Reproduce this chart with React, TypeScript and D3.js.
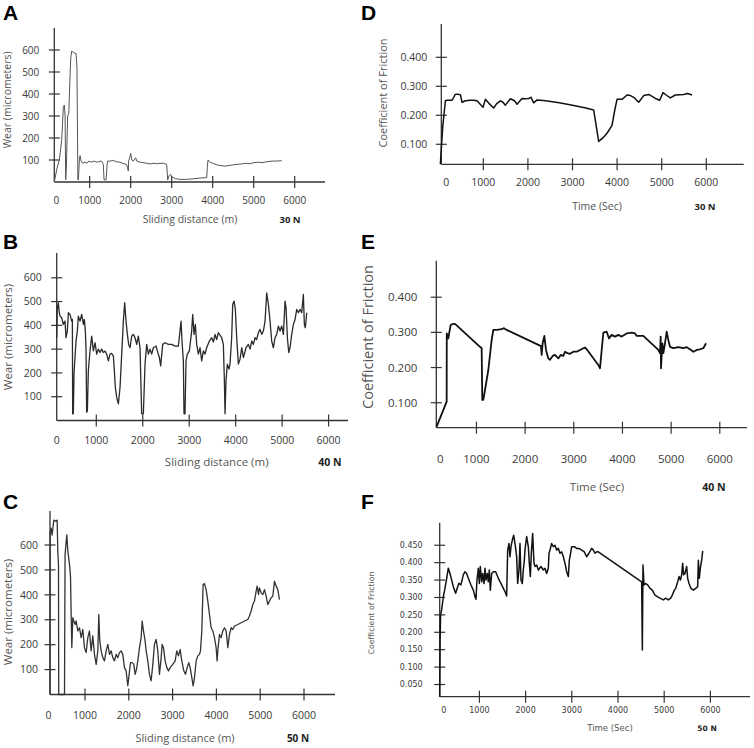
import * as d3 from 'd3';

type Pt = [number, number];

// tick values shared by the six panels
const xTicks = [0, 1000, 2000, 3000, 4000, 5000, 6000];
const wearTicks = [100, 200, 300, 400, 500, 600];
const cofTicks = [0.1, 0.2, 0.3, 0.4];
const cofTicksFine = [0.05, 0.1, 0.15, 0.2, 0.25, 0.3, 0.35, 0.4, 0.45];

// A - wear at 30 N (sliding distance m, micrometers)
const wear30N: Pt[] = [
  [138, 0], [200, 60], [260, 100], [317, 190], [358, 340], [382, 350], [400, 300], [415, 10], [430, 60],
  [463, 300], [490, 310], [515, 450], [537, 560], [561, 595], [600, 590], [640, 585], [667, 585], [690, 520],
  [699, 300], [712, 10], [725, 10], [748, 100], [765, 120], [790, 95], [830, 85], [880, 90], [930, 85],
  [980, 95], [1040, 90], [1090, 95], [1150, 92], [1200, 90], [1252, 95], [1300, 93], [1333, 80], [1350, 10],
  [1400, 10], [1425, 80], [1440, 95], [1500, 95], [1577, 98], [1650, 92], [1740, 90], [1800, 85], [1900, 80],
  [1943, 50], [1950, 95], [1975, 110], [2000, 130], [2030, 100], [2065, 95], [2120, 110], [2150, 95],
  [2228, 90], [2300, 88], [2400, 85], [2472, 82], [2550, 85], [2650, 83], [2715, 85], [2800, 85], [2878, 80],
  [2902, 10], [2940, 30], [2970, 35], [3000, 25], [3041, 20], [3100, 15], [3200, 12], [3366, 12], [3500, 14],
  [3691, 18], [3854, 20], [3870, 70], [3886, 100], [3935, 90], [4000, 85], [4100, 78], [4179, 75], [4300, 72],
  [4400, 75], [4504, 78], [4600, 80], [4700, 82], [4800, 85], [4911, 83], [5000, 88], [5100, 90], [5200, 88],
  [5317, 92], [5450, 95], [5550, 95], [5683, 97],
];

// B - wear at 40 N
const wear40N: Pt[] = [
  [148, 348], [160, 470], [183, 495], [200, 460], [219, 439], [255, 432], [291, 404], [327, 418], [348, 348],
  [377, 376], [399, 453], [435, 446], [470, 418], [485, 425], [492, 28], [506, 28], [521, 200], [564, 334],
  [592, 376], [614, 439], [650, 418], [686, 446], [722, 404], [743, 425], [765, 376], [779, 300], [793, 35],
  [808, 40], [829, 209], [865, 293], [901, 355], [937, 293], [973, 327], [1009, 279], [1044, 300], [1080, 286],
  [1116, 300], [1152, 286], [1188, 292], [1224, 279], [1260, 251], [1296, 279], [1330, 282], [1367, 272],
  [1389, 209], [1410, 139], [1439, 97], [1475, 70], [1511, 139], [1547, 279], [1583, 418], [1611, 495],
  [1640, 418], [1669, 362], [1697, 320], [1726, 306], [1762, 355], [1798, 362], [1834, 348], [1870, 320],
  [1905, 355], [1941, 306], [1977, 28], [2013, 28], [2049, 237], [2085, 320], [2121, 279], [2157, 300],
  [2192, 279], [2228, 306], [2286, 313], [2314, 293], [2357, 265], [2386, 230], [2429, 320], [2479, 327],
  [2551, 320], [2623, 320], [2695, 313], [2766, 313], [2802, 376], [2824, 418], [2845, 334], [2874, 251],
  [2888, 28], [2910, 28], [2931, 251], [2960, 279], [3003, 293], [3053, 376], [3075, 446], [3104, 362],
  [3132, 404], [3161, 320], [3197, 279], [3233, 306], [3269, 251], [3305, 293], [3340, 279], [3376, 306],
  [3434, 334], [3484, 348], [3520, 330], [3556, 362], [3590, 340], [3627, 369], [3699, 348], [3735, 320],
  [3757, 167], [3771, 28], [3792, 167], [3821, 237], [3857, 216], [3878, 237], [3914, 348], [3936, 488],
  [3965, 502], [3993, 467], [4022, 348], [4058, 237], [4094, 258], [4130, 306], [4166, 265], [4223, 306],
  [4273, 320], [4310, 300], [4345, 334], [4380, 320], [4417, 348], [4450, 340], [4488, 369], [4524, 383],
  [4560, 362], [4596, 376], [4632, 418], [4668, 536], [4704, 488], [4740, 418], [4775, 334], [4811, 306],
  [4847, 348], [4883, 362], [4919, 397], [4955, 376], [4991, 397], [5027, 362], [5063, 502], [5084, 474],
  [5113, 348], [5142, 286], [5170, 306], [5206, 362], [5242, 404], [5278, 425], [5314, 467], [5349, 453],
  [5385, 467], [5421, 453], [5457, 530], [5478, 404], [5500, 390], [5529, 453],
];

// C - wear at 50 N
const wear50N: Pt[] = [
  [201, 0], [205, 650], [227, 668], [250, 640], [288, 700], [330, 695], [364, 700], [379, 575], [395, 520],
  [400, 0], [532, 0], [545, 560], [570, 614], [585, 641], [608, 575], [646, 522], [669, 475], [684, 321],
  [699, 188], [722, 308], [745, 295], [775, 281], [798, 295], [836, 255], [874, 268], [912, 228], [950, 261],
  [988, 188], [1026, 168], [1064, 228], [1102, 255], [1140, 175], [1178, 235], [1217, 161], [1255, 121],
  [1293, 175], [1315, 321], [1338, 215], [1369, 175], [1407, 148], [1445, 135], [1483, 175], [1521, 201],
  [1559, 161], [1597, 175], [1635, 148], [1673, 135], [1711, 161], [1749, 148], [1787, 168], [1825, 175],
  [1863, 161], [1901, 108], [1939, 95], [1977, 35], [2000, 68], [2038, 128], [2076, 128], [2114, 121],
  [2145, 81], [2175, 101], [2206, 135], [2244, 188], [2282, 228], [2305, 295], [2335, 255], [2373, 215],
  [2396, 175], [2434, 135], [2472, 81], [2510, 55], [2548, 121], [2586, 201], [2624, 221], [2662, 175],
  [2700, 81], [2739, 148], [2761, 201], [2792, 188], [2830, 135], [2868, 108], [2906, 95], [2944, 108],
  [3005, 121], [3058, 135], [3096, 175], [3134, 155], [3172, 181], [3210, 135], [3256, 95], [3294, 81],
  [3332, 108], [3370, 128], [3401, 108], [3439, 68], [3469, 35], [3500, 68], [3538, 135], [3576, 155],
  [3614, 161], [3636, 175], [3667, 255], [3697, 441], [3728, 445], [3766, 421], [3804, 375], [3842, 321],
  [3880, 268], [3918, 255], [3956, 228], [3994, 188], [4017, 135], [4032, 175], [4070, 241], [4108, 228],
  [4146, 255], [4184, 268], [4222, 255], [4261, 188], [4299, 241], [4337, 268], [4375, 261], [4413, 275],
  [4489, 281], [4565, 288], [4641, 295], [4717, 301], [4755, 315], [4793, 335], [4831, 361], [4869, 375],
  [4907, 415], [4930, 435], [4961, 401], [4983, 428], [5022, 408], [5060, 401], [5098, 421], [5136, 395],
  [5174, 361], [5212, 375], [5250, 388], [5288, 395], [5326, 455], [5364, 435], [5402, 421], [5440, 381],
];

// D - coefficient of friction at 30 N (time s)
const cof30N: Pt[] = [
  [37, 0.031], [52, 0.07], [90, 0.16], [130, 0.22], [150, 0.25], [187, 0.252], [300, 0.252], [336, 0.262],
  [370, 0.272], [411, 0.273], [486, 0.271], [523, 0.245], [600, 0.25], [700, 0.252], [785, 0.252], [860, 0.25],
  [920, 0.24], [994, 0.228], [1046, 0.255], [1120, 0.242], [1233, 0.225], [1300, 0.24], [1383, 0.25],
  [1440, 0.245], [1495, 0.235], [1607, 0.257], [1700, 0.25], [1756, 0.238], [1868, 0.258], [1950, 0.257],
  [2018, 0.258], [2070, 0.262], [2130, 0.243], [2205, 0.253], [2400, 0.25], [2700, 0.243], [3000, 0.235],
  [3300, 0.225], [3475, 0.218], [3587, 0.11], [3680, 0.122], [3774, 0.138], [3886, 0.165], [3950, 0.22],
  [3999, 0.255], [4111, 0.255], [4223, 0.27], [4300, 0.268], [4372, 0.262], [4484, 0.245], [4596, 0.268],
  [4709, 0.272], [4858, 0.258], [4955, 0.252], [5030, 0.278], [5100, 0.27], [5194, 0.26], [5306, 0.27],
  [5493, 0.272], [5580, 0.275], [5680, 0.27],
];

// E - coefficient of friction at 40 N
const cof40N: Pt[] = [
  [182, 0.032], [388, 0.103], [390, 0.297], [422, 0.283], [445, 0.302], [470, 0.321], [511, 0.324],
  [559, 0.324], [1073, 0.259], [1107, 0.255], [1120, 0.108], [1141, 0.108], [1175, 0.136], [1244, 0.193],
  [1312, 0.278], [1347, 0.307], [1415, 0.307], [1518, 0.309], [1566, 0.312], [1621, 0.307], [2326, 0.261],
  [2340, 0.236], [2360, 0.269], [2395, 0.29], [2429, 0.25], [2477, 0.226], [2511, 0.222], [2566, 0.233],
  [2614, 0.236], [2682, 0.226], [2730, 0.236], [2785, 0.233], [2819, 0.245], [2867, 0.241], [2922, 0.239],
  [2991, 0.245], [3059, 0.245], [3128, 0.25], [3196, 0.255], [3230, 0.257], [3265, 0.252], [3504, 0.207],
  [3539, 0.198], [3573, 0.25], [3607, 0.299], [3676, 0.302], [3723, 0.283], [3778, 0.293], [3847, 0.288],
  [3915, 0.293], [3984, 0.288], [4087, 0.297], [4189, 0.299], [4258, 0.297], [4292, 0.29], [4429, 0.29],
  [4737, 0.25], [4772, 0.241], [4785, 0.288], [4792, 0.198], [4820, 0.269], [4840, 0.241], [4874, 0.269],
  [4909, 0.302], [4943, 0.278], [4977, 0.259], [5046, 0.255], [5148, 0.258], [5251, 0.255], [5320, 0.258],
  [5388, 0.252], [5457, 0.245], [5525, 0.25], [5594, 0.252], [5662, 0.255], [5717, 0.269],
];

// F - coefficient of friction at 50 N
const cof50N: Pt[] = [
  [141, 0.015], [150, 0.18], [160, 0.25], [183, 0.264], [219, 0.302], [255, 0.326], [292, 0.355], [328, 0.384],
  [364, 0.369], [400, 0.35], [436, 0.331], [486, 0.312], [530, 0.331], [558, 0.341], [600, 0.336], [652, 0.365],
  [688, 0.374], [724, 0.369], [761, 0.355], [818, 0.336], [869, 0.321], [905, 0.302], [926, 0.295], [948, 0.35],
  [977, 0.384], [999, 0.34], [1020, 0.389], [1049, 0.345], [1071, 0.369], [1100, 0.34], [1121, 0.384],
  [1143, 0.35], [1172, 0.369], [1193, 0.345], [1215, 0.379], [1237, 0.321], [1266, 0.369], [1302, 0.374],
  [1352, 0.374], [1410, 0.355], [1482, 0.336], [1554, 0.317], [1590, 0.304], [1612, 0.436], [1641, 0.455],
  [1662, 0.417], [1684, 0.446], [1713, 0.465], [1742, 0.479], [1771, 0.455], [1807, 0.417], [1828, 0.34],
  [1857, 0.379], [1879, 0.455], [1900, 0.35], [1929, 0.34], [1951, 0.379], [1973, 0.407], [1987, 0.436],
  [2023, 0.475], [2059, 0.446], [2081, 0.398], [2103, 0.36], [2124, 0.427], [2153, 0.484], [2182, 0.398],
  [2204, 0.389], [2240, 0.393], [2276, 0.379], [2333, 0.389], [2384, 0.379], [2420, 0.384], [2456, 0.369],
  [2492, 0.384], [2507, 0.427], [2528, 0.436], [2564, 0.455], [2600, 0.446], [2636, 0.45], [2673, 0.436],
  [2709, 0.441], [2745, 0.427], [2781, 0.431], [2817, 0.417], [2853, 0.398], [2889, 0.374], [2925, 0.36],
  [2947, 0.407], [2968, 0.422], [2997, 0.446], [3055, 0.446], [3105, 0.441], [3156, 0.441], [3214, 0.436],
  [3271, 0.431], [3322, 0.417], [3372, 0.427], [3430, 0.441], [3466, 0.436], [3502, 0.427], [3538, 0.431],
  [3574, 0.431], [4512, 0.345], [4527, 0.149], [4541, 0.393], [4563, 0.336], [4599, 0.34], [4642, 0.336],
  [4693, 0.326], [4743, 0.321], [4801, 0.307], [4859, 0.302], [4909, 0.298], [4981, 0.293], [5032, 0.298],
  [5090, 0.293], [5140, 0.298], [5176, 0.307], [5220, 0.321], [5248, 0.326], [5292, 0.345], [5321, 0.36],
  [5350, 0.35], [5378, 0.365], [5400, 0.398], [5421, 0.365], [5450, 0.369], [5486, 0.389], [5508, 0.355],
  [5537, 0.34], [5580, 0.326], [5631, 0.321], [5681, 0.326], [5724, 0.331], [5739, 0.407], [5760, 0.355],
  [5782, 0.384], [5811, 0.407], [5833, 0.434],
];

interface PanelCfg {
  letter: string; lx: number; ly: number;
  data: Pt[];
  xDomain: [number, number]; xRange: [number, number]; xEnd: number; zeroDx: number;
  yDomain: [number, number]; yRange: [number, number]; yTop: number;
  yTicks: number[]; yFmt: (v: number) => string;
  xLabel: string; yLabel: string; load: string;
  font: string; tickFs: number; titleFs: number; yTitleFs: number;
  xTickY: number; xTitleY: number; xTitleX: number; loadX: number;
  yGap: number; yTitleX: number; yTitleY: number;
  stroke: string; sw: number;
}

const wearFmt = (v: number) => String(v);
const cofFmt = d3.format('.3f');
const sans = '"Open Sans", "Liberation Sans", sans-serif';

const panels: PanelCfg[] = [
  {
    letter: 'A', lx: 3, ly: 20, data: wear30N,
    xDomain: [137, 6000], xRange: [54.3, 294.7], xEnd: 325, zeroDx: 2,
    yDomain: [0, 600], yRange: [182, 50], yTop: 28, yTicks: wearTicks, yFmt: wearFmt,
    xLabel: 'Sliding distance (m)', yLabel: 'Wear (micrometers)', load: '30 N',
    font: sans, tickFs: 10, titleFs: 10.5, yTitleFs: 10.5,
    xTickY: 203.5, xTitleY: 222.5, xTitleX: 190, loadX: 290,
    yGap: 15, yTitleX: 11, yTitleY: 100, stroke: '#555', sw: 1,
  },
  {
    letter: 'B', lx: 3, ly: 249, data: wear40N,
    xDomain: [148, 6000], xRange: [56.7, 328.6], xEnd: 348, zeroDx: 0,
    yDomain: [0, 600], yRange: [420.5, 277.8], yTop: 253, yTicks: wearTicks, yFmt: wearFmt,
    xLabel: 'Sliding distance (m)', yLabel: 'Wear (micrometers)', load: '40 N',
    font: sans, tickFs: 10.5, titleFs: 11.5, yTitleFs: 11.5,
    xTickY: 444, xTitleY: 465.5, xTitleX: 216.7, loadX: 330,
    yGap: 15, yTitleX: 12, yTitleY: 337, stroke: '#2a2a2a', sw: 1.3,
  },
  {
    letter: 'C', lx: 3, ly: 509, data: wear50N,
    xDomain: [201, 6000], xRange: [50, 304], xEnd: 335, zeroDx: -1.5,
    yDomain: [0, 600], yRange: [694.5, 545], yTop: 511, yTicks: wearTicks, yFmt: wearFmt,
    xLabel: 'Sliding distance (m)', yLabel: 'Wear (micrometers)', load: '50 N',
    font: sans, tickFs: 10.5, titleFs: 11, yTitleFs: 11.5,
    xTickY: 719, xTitleY: 742, xTitleX: 185, loadX: 298,
    yGap: 12, yTitleX: 12, yTitleY: 612, stroke: '#333', sw: 1.3,
  },
  {
    letter: 'D', lx: 361, ly: 20, data: cof30N,
    xDomain: [58, 6000], xRange: [441.3, 706.3], xEnd: 743.7, zeroDx: 5,
    yDomain: [0.031, 0.4], yRange: [164.3, 57.3], yTop: 24, yTicks: cofTicks, yFmt: cofFmt,
    xLabel: 'Time (Sec)', yLabel: 'Coefficient of Friction', load: '30 N',
    font: sans, tickFs: 10.5, titleFs: 10.5, yTitleFs: 11,
    xTickY: 186.2, xTitleY: 210, xTitleX: 597, loadX: 705,
    yGap: 14, yTitleX: 387, yTitleY: 93, stroke: '#111', sw: 1.5,
  },
  {
    letter: 'E', lx: 361, ly: 249, data: cof40N,
    xDomain: [175, 6000], xRange: [436.3, 719.8], xEnd: 747, zeroDx: 4,
    yDomain: [0.029, 0.4], yRange: [427.7, 297.2], yTop: 260.7, yTicks: cofTicks, yFmt: cofFmt,
    xLabel: 'Time (Sec)', yLabel: 'Coefficient of Friction', load: '40 N',
    font: sans, tickFs: 11.5, titleFs: 11.5, yTitleFs: 14.5,
    xTickY: 462.5, xTitleY: 491, xTitleX: 597, loadX: 714,
    yGap: 19, yTitleX: 373, yTitleY: 337, stroke: '#111', sw: 1.8,
  },
  {
    letter: 'F', lx: 361, ly: 509, data: cof50N,
    xDomain: [141, 6000], xRange: [439.7, 710.4], xEnd: 750, zeroDx: 4,
    yDomain: [0.015, 0.45], yRange: [696.7, 545.25], yTop: 522.7, yTicks: cofTicksFine, yFmt: cofFmt,
    xLabel: 'Time (Sec)', yLabel: 'Coefficient of Friction', load: '50 N',
    font: '"DejaVu Sans", sans-serif', tickFs: 8, titleFs: 8.5, yTitleFs: 7.8,
    xTickY: 713, xTitleY: 730.5, xTitleX: 610, loadX: 707,
    yGap: 17, yTitleX: 374, yTitleY: 613, stroke: '#111', sw: 1.5,
  },
];

function Panel({ p }: { p: PanelCfg }) {
  const x = d3.scaleLinear().domain(p.xDomain).range(p.xRange);
  const y = d3.scaleLinear().domain(p.yDomain).range(p.yRange);
  const x0 = p.xRange[0];
  const y0 = p.yRange[0];
  const line = d3.line<Pt>().x(d => x(d[0])).y(d => y(d[1]));
  const axisC = '#333';
  const textC = '#3a3a3a';

  return (
    <g>
      <text x={p.lx} y={p.ly} fontFamily='"Liberation Sans", Arial, sans-serif'
        fontWeight="bold" fontSize={21} fill="#000">{p.letter}</text>

      {/* axes */}
      <line x1={x0} x2={x0} y1={p.yTop} y2={y0} stroke={axisC} strokeWidth={1.3} />
      <line x1={x0} x2={p.xEnd} y1={y0} y2={y0} stroke={axisC} strokeWidth={1.3} />

      {p.yTicks.map(t => (
        <g key={'y' + t}>
          <line x1={x0 - 5.5} x2={x0 + 5.5} y1={y(t)} y2={y(t)} stroke={axisC} strokeWidth={1.2} />
          <text x={x0 - p.yGap} y={y(t)} dy="0.35em" textAnchor="end"
            fontFamily={p.font} fontSize={p.tickFs} fill={textC}>{p.yFmt(t)}</text>
        </g>
      ))}

      {xTicks.map(t => {
        const px = t === 0 ? x0 + p.zeroDx : x(t);
        return (
          <g key={'x' + t}>
            {t > 0 && <line x1={px} x2={px} y1={y0 - 6} y2={y0 + 6} stroke={axisC} strokeWidth={1.2} />}
            <text x={px} y={p.xTickY} textAnchor="middle"
              fontFamily={p.font} fontSize={p.tickFs} fill={textC}>{t}</text>
          </g>
        );
      })}

      <path d={line(p.data) ?? ''} fill="none" stroke={p.stroke} strokeWidth={p.sw}
        strokeLinejoin="round" />

      <text x={p.xTitleX} y={p.xTitleY} textAnchor="middle" fontFamily={p.font}
        fontSize={p.titleFs} fill="#555">{p.xLabel}</text>
      <text x={p.loadX} y={p.xTitleY} textAnchor="middle" fontFamily={p.font}
        fontSize={p.titleFs - 1} fontWeight="bold" fill="#222">{p.load}</text>
      <text transform={`translate(${p.yTitleX},${p.yTitleY}) rotate(-90)`} textAnchor="middle"
        fontFamily={p.font} fontSize={p.yTitleFs} fill="#555">{p.yLabel}</text>
    </g>
  );
}

export default function App() {
  return (
    <svg width={754} height={748} viewBox="0 0 754 748"
      style={{ position: 'absolute', left: 0, top: 0, background: '#fff', display: 'block' }}>
      {panels.map(p => <Panel key={p.letter} p={p} />)}
    </svg>
  );
}
